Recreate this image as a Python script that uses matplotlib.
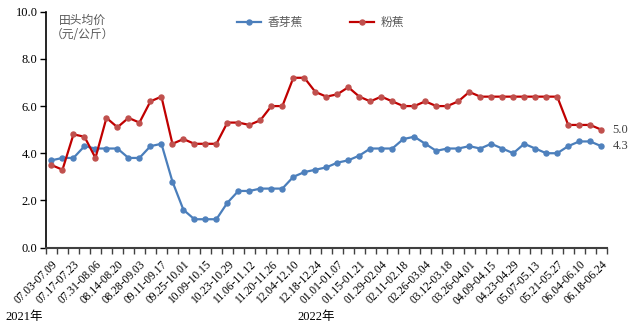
import numpy as np
import matplotlib.pyplot as plt

# 每两周标注一次的周期
week_labels = [
    "07.03-07.09", "07.17-07.23", "07.31-08.06", "08.14-08.20", "08.28-09.03",
    "09.11-09.17", "09.25-10.01", "10.09-10.15", "10.23-10.29", "11.06-11.12",
    "11.20-11.26", "12.04-12.10", "12.18-12.24", "01.01-01.07", "01.15-01.21",
    "01.29-02.04", "02.11-02.18", "02.26-03.04", "03.12-03.18", "03.26-04.01",
    "04.09-04.15", "04.23-04.29", "05.07-05.13", "05.21-05.27", "06.04-06.10",
    "06.18-06.24",
]

# 香芽蕉 周均价（元/公斤）
xiangya = [
    3.7, 3.8, 3.8, 4.3, 4.2, 4.2, 4.2, 3.8, 3.8, 4.3,
    4.4, 2.8, 1.6, 1.2, 1.2, 1.2, 1.9, 2.4, 2.4, 2.5,
    2.5, 2.5, 3.0, 3.2, 3.3, 3.4, 3.6, 3.7, 3.9, 4.2,
    4.2, 4.2, 4.6, 4.7, 4.4, 4.1, 4.2, 4.2, 4.3, 4.2,
    4.4, 4.2, 4.0, 4.4, 4.2, 4.0, 4.0, 4.3, 4.5, 4.5,
    4.3,
]

# 粉蕉 周均价（元/公斤）
fenjiao = [
    3.5, 3.3, 4.8, 4.7, 3.8, 5.5, 5.1, 5.5, 5.3, 6.2,
    6.4, 4.4, 4.6, 4.4, 4.4, 4.4, 5.3, 5.3, 5.2, 5.4,
    6.0, 6.0, 7.2, 7.2, 6.6, 6.4, 6.5, 6.8, 6.4, 6.2,
    6.4, 6.2, 6.0, 6.0, 6.2, 6.0, 6.0, 6.2, 6.6, 6.4,
    6.4, 6.4, 6.4, 6.4, 6.4, 6.4, 6.4, 5.2, 5.2, 5.2,
    5.0,
]

serif = ["Liberation Serif", "Noto Sans CJK SC"]
cjk = ["Noto Sans CJK SC", "DejaVu Sans"]

x = np.arange(len(xiangya))

fig = plt.figure(figsize=(6.3, 3.27), dpi=100)
ax = fig.add_axes([0.073, 0.243, 0.890, 0.721])

ax.plot(x, xiangya, color="#4A7EBB", lw=1.6, marker="o", ms=3.6,
        mfc="#4F81BD", mec="#4F81BD", label="香芽蕉")
ax.plot(x, fenjiao, color="#C00000", lw=1.6, marker="o", ms=3.6,
        mfc="#C0504D", mec="#C0504D", label="粉蕉")

ax.set_xlim(-0.5, len(x) - 0.5)
ax.set_ylim(0, 10)
ax.set_yticks(np.arange(0, 10.1, 2))
ax.set_yticklabels([f"{v:.1f}" for v in np.arange(0, 10.1, 2)],
                   family=serif, fontsize=9)

# 刻度线在类别边界，标签隔周放在类别中心
ax.set_xticks(np.arange(-0.5, len(x), 1.0))
ax.set_xticklabels([])
ax.set_xticks(np.arange(0, len(x), 2), minor=True)
ax.set_xticklabels(week_labels, minor=True, rotation=45, ha="right",
                   va="top", rotation_mode="anchor", family=serif,
                   fontsize=8.3)
ax.tick_params(axis="x", which="major", direction="out", length=4,
               width=1, color="#404040")
ax.tick_params(axis="x", which="minor", length=0, pad=8)
ax.tick_params(axis="y", direction="out", length=4, width=1, pad=2)

for side in ("top", "right"):
    ax.spines[side].set_visible(False)
ax.spines["left"].set_linewidth(1.2)
ax.spines["bottom"].set_color("#404040")
ax.spines["bottom"].set_linewidth(1.5)

# 末期数值
ax.annotate(f"{fenjiao[-1]:.1f}", (x[-1], fenjiao[-1]), xytext=(8, 0),
            textcoords="offset points", va="center", ha="left",
            family=serif, fontsize=9, color="#404040")
ax.annotate(f"{xiangya[-1]:.1f}", (x[-1], xiangya[-1]), xytext=(8, 0),
            textcoords="offset points", va="center", ha="left",
            family=serif, fontsize=9, color="#404040")

ax.text(0.065, 0.962, "田头均价", transform=ax.transAxes, ha="center",
        va="center", family=cjk, fontsize=8.5, color="#595959")
ax.text(0.065, 0.905, "（元/公斤）", transform=ax.transAxes, ha="center",
        va="center", family=cjk, fontsize=8.5, color="#595959")

leg = ax.legend(loc="center", bbox_to_anchor=(0.49, 0.955), ncol=2,
                frameon=False, handlelength=2.0, handletextpad=0.6,
                columnspacing=4.0, prop={"family": cjk, "size": 8.5})
for t in leg.get_texts():
    t.set_color("#595959")

fig.text(5 / 630, 1 - 317 / 327, "2021年", family=serif, fontsize=9,
         va="center", ha="left")
fig.text(297 / 630, 1 - 317 / 327, "2022年", family=serif, fontsize=9,
         va="center", ha="left")

fig.savefig("out.png", dpi=100)
